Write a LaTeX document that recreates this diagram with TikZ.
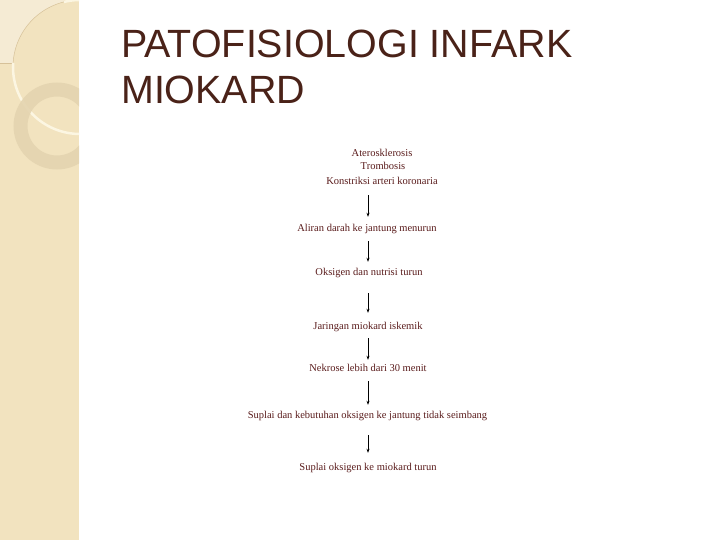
\documentclass[tikz,border=0pt]{standalone}
\usepackage{fontspec}
\setmainfont{Liberation Serif}
\newfontfamily\titlefont{Liberation Sans}
\usetikzlibrary{arrows.meta}
\definecolor{band}{HTML}{F2E3BF}
\definecolor{bandlight}{HTML}{F5EBD4}
\definecolor{bandedge}{HTML}{D6C199}
\definecolor{ringc}{HTML}{E4D4B0}
\definecolor{arcc}{HTML}{FCF6E2}
\definecolor{titlec}{HTML}{4A2218}
\definecolor{flowc}{HTML}{5A1C1C}
\tikzset{
  flowtext/.style={font=\fontsize{10.5}{12}\selectfont, text=flowc, inner sep=0pt, text height=7.5pt, text depth=2.5pt},
  titletext/.style={font=\titlefont\fontsize{39.4}{47}\selectfont, text=titlec, inner sep=0pt, anchor=base west},
  arr/.style={-{Stealth[length=4pt,width=3pt]}, line width=0.6pt, black}
}
\begin{document}
\begin{tikzpicture}[x=1pt,y=-1pt]
\useasboundingbox (0,0) rectangle (720,540);
\fill[white] (0,0) rectangle (720,540);
% left band
\fill[band] (0,0) rectangle (79,540);
\begin{scope}
  \clip (0,0) rectangle (79,540);
  \begin{scope}
    \clip (0,0) rectangle (64,63);
    \fill[bandlight] (0,0) rectangle (64,63);
    \fill[band] (80,67) circle (67);
    \draw[bandedge, line width=0.5pt] (80,67) circle (67);
  \end{scope}
  \draw[bandedge, line width=0.5pt] (0,63) -- (13,63);
  \begin{scope}
    \clip (0,63) rectangle (79,540) (64,0) rectangle (79,63);
    \draw[arcc, line width=2.5pt] (80,67) circle (67);
  \end{scope}
  \draw[ringc, line width=14pt, opacity=0.9] (57,126) circle (36.5);
\end{scope}
% title
\node[titletext] (title1) at (121,58) {PATOFISIOLOGI INFARK};
\node[titletext] (title2) at (121,104) {MIOKARD};
% flow
\node[flowtext] (ater) at (382,154) {Aterosklerosis};
\node[flowtext] (tromb) at (383,167) {Trombosis};
\node[flowtext] (konst) at (382,182) {Konstriksi arteri koronaria};
\node[flowtext] (aliran) at (367,229) {Aliran darah ke jantung menurun};
\node[flowtext] (oks) at (369,273) {Oksigen dan nutrisi turun};
\node[flowtext] (jar) at (368,327) {Jaringan miokard iskemik};
\node[flowtext] (nek) at (368,369) {Nekrose lebih dari 30 menit};
\node[flowtext] (sup1) at (367.5,416) {Suplai dan kebutuhan oksigen ke jantung tidak seimbang};
\node[flowtext] (sup2) at (368,468) {Suplai oksigen ke miokard turun};
\coordinate (ax) at (368,0);
\draw[arr, shorten <=8pt, shorten >=7pt] (konst.south -| ax) -- (aliran.north -| ax);
\draw[arr, shorten <=7pt, shorten >=6pt] (aliran.south -| ax) -- (oks.north -| ax);
\draw[arr, shorten <=15pt, shorten >=9pt] (oks.south -| ax) -- (jar.north -| ax);
\draw[arr, shorten <=6pt, shorten >=4pt] (jar.south -| ax) -- (nek.north -| ax);
\draw[arr, shorten <=7pt, shorten >=6pt] (nek.south -| ax) -- (sup1.north -| ax);
\draw[arr, shorten <=14pt, shorten >=10pt] (sup1.south -| ax) -- (sup2.north -| ax);
\end{tikzpicture}
\end{document}
